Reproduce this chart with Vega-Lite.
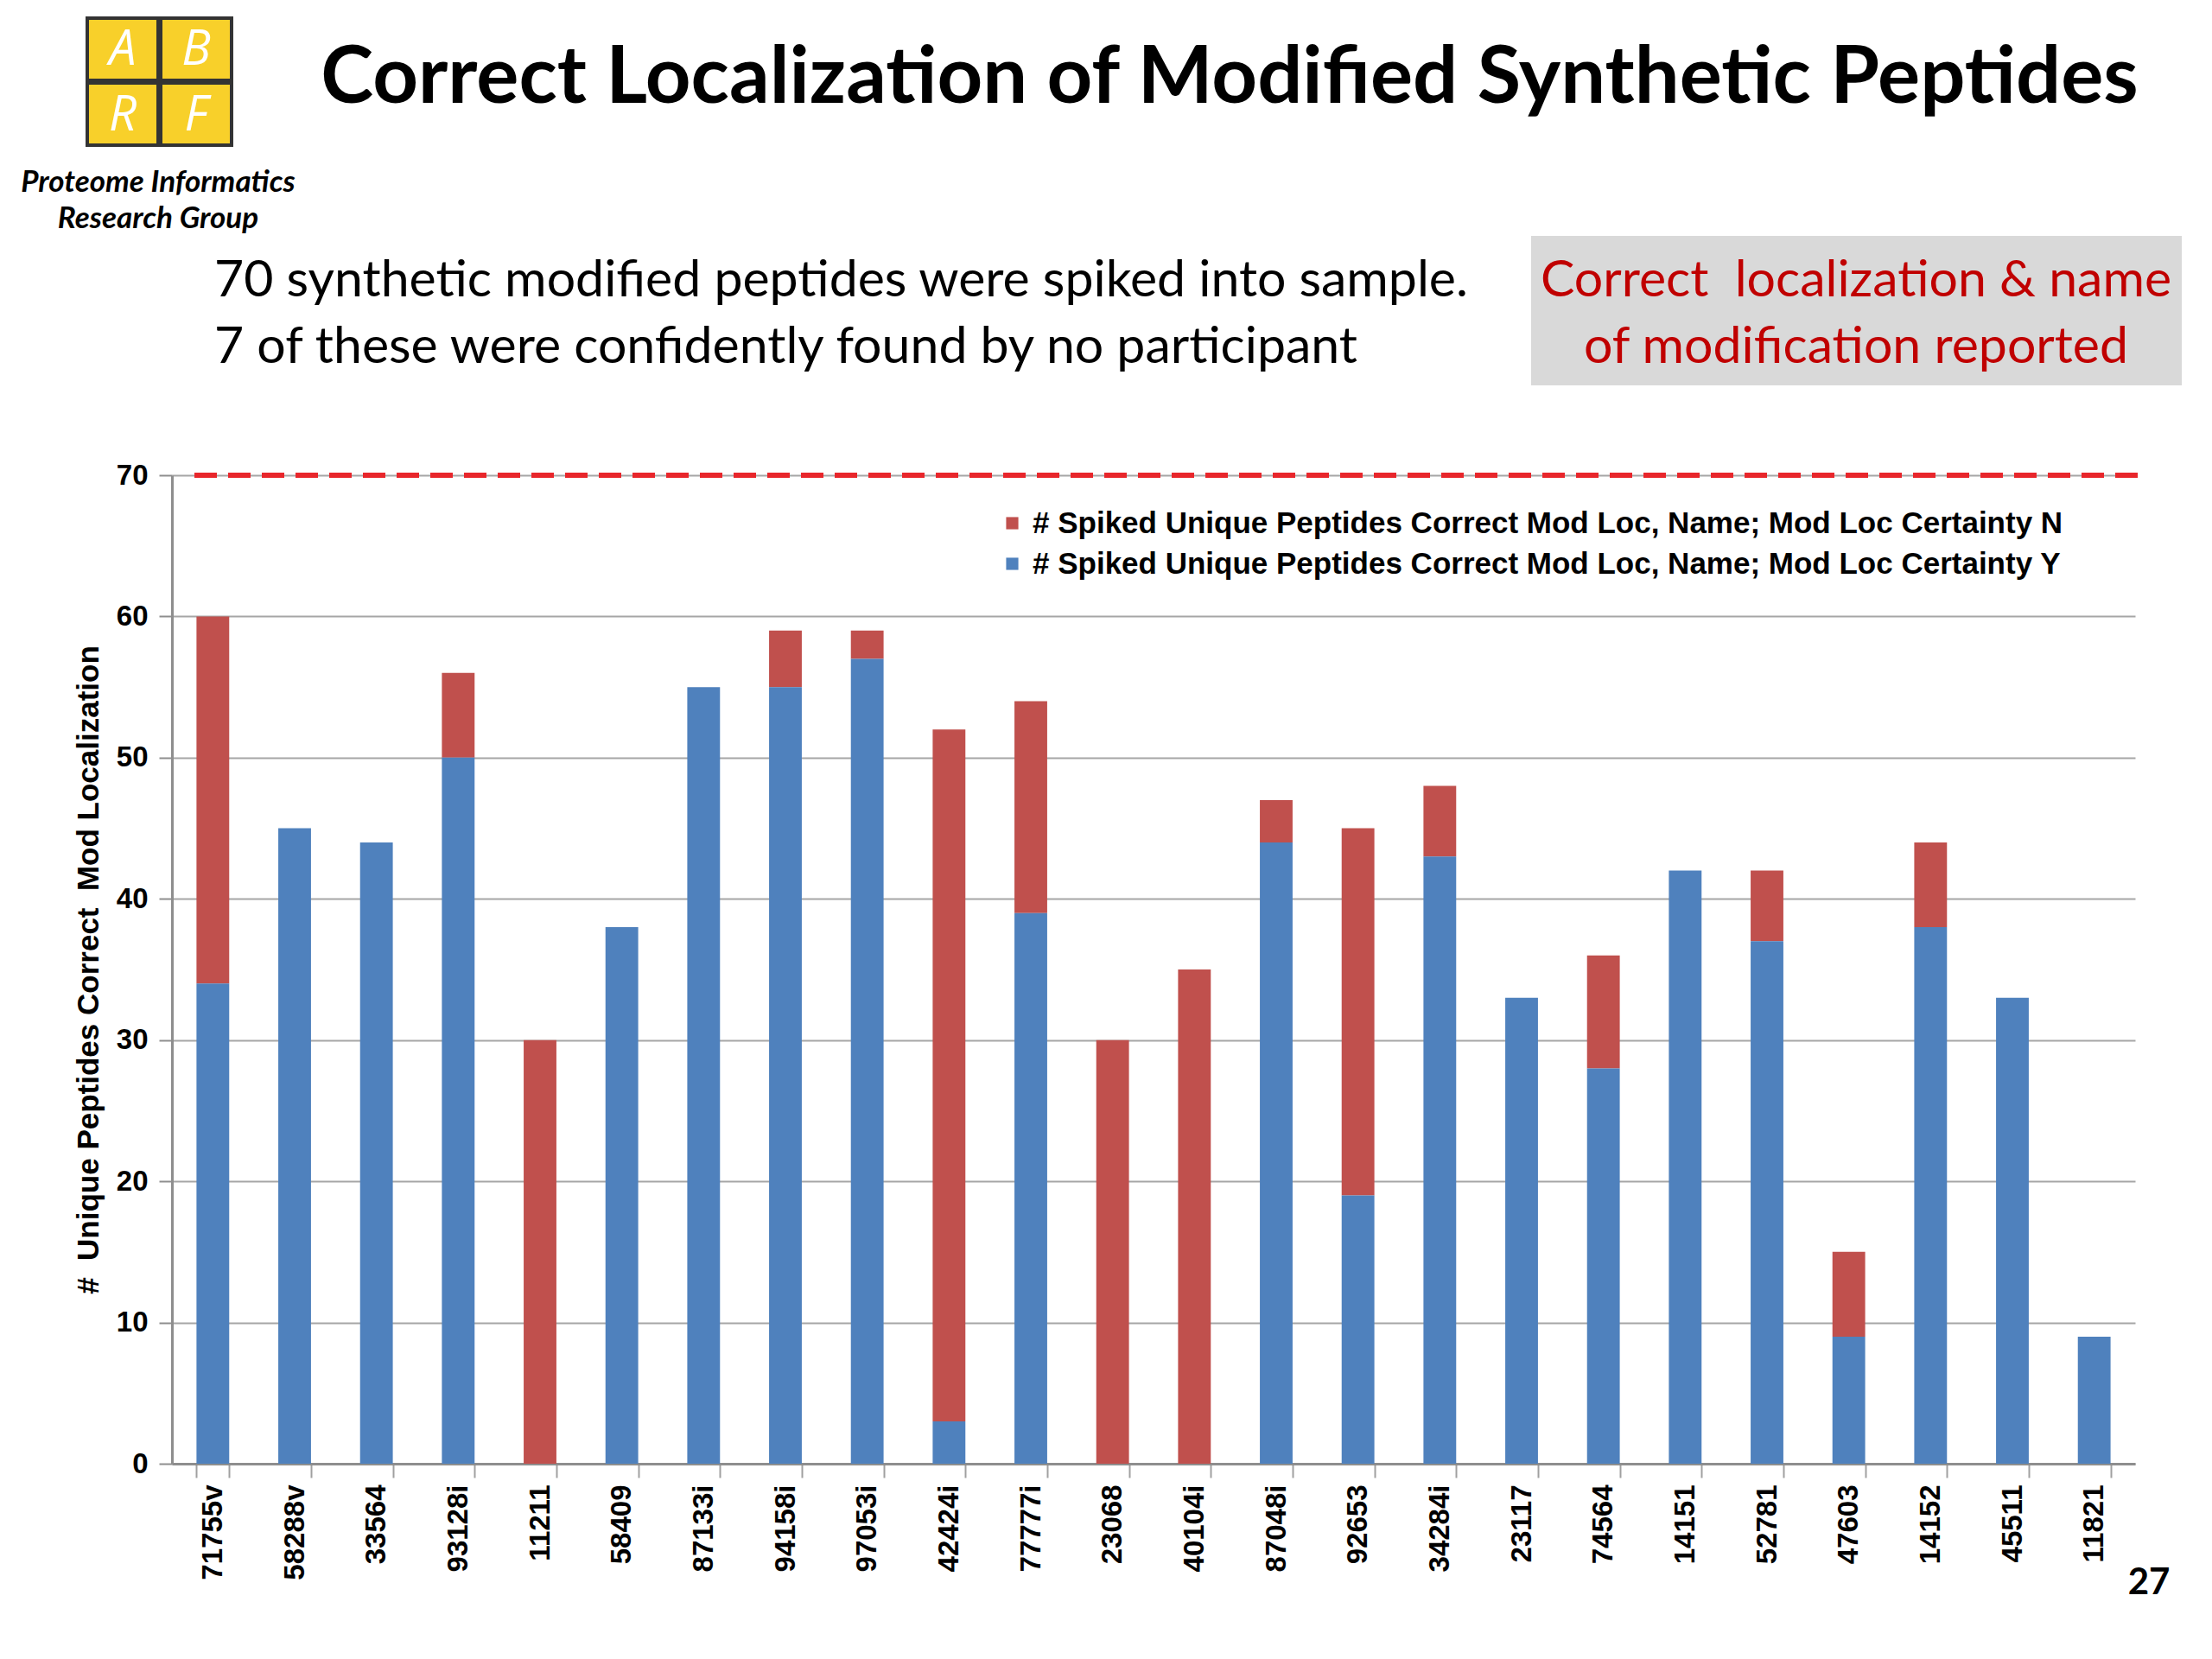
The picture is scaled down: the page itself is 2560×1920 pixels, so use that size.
{
  "$schema": "https://vega.github.io/schema/vega-lite/v6.json",
  "width": 2272,
  "height": 1144,
  "autosize": {"type": "none"},
  "padding": {"left": 199, "top": 550, "right": 89, "bottom": 226},
  "background": "white",
  "config": {"view": {"stroke": null}, "font": "Liberation Sans"},
  "layer": [
    {
      "data": {"values": [
        {"peptide": "71755v", "Y": 34, "N": 26},
        {"peptide": "58288v", "Y": 45, "N": 0},
        {"peptide": "33564", "Y": 44, "N": 0},
        {"peptide": "93128i", "Y": 50, "N": 6},
        {"peptide": "11211", "Y": 0, "N": 30},
        {"peptide": "58409", "Y": 38, "N": 0},
        {"peptide": "87133i", "Y": 55, "N": 0},
        {"peptide": "94158i", "Y": 55, "N": 4},
        {"peptide": "97053i", "Y": 57, "N": 2},
        {"peptide": "42424i", "Y": 3, "N": 49},
        {"peptide": "77777i", "Y": 39, "N": 15},
        {"peptide": "23068", "Y": 0, "N": 30},
        {"peptide": "40104i", "Y": 0, "N": 35},
        {"peptide": "87048i", "Y": 44, "N": 3},
        {"peptide": "92653", "Y": 19, "N": 26},
        {"peptide": "34284i", "Y": 43, "N": 5},
        {"peptide": "23117", "Y": 33, "N": 0},
        {"peptide": "74564", "Y": 28, "N": 8},
        {"peptide": "14151", "Y": 42, "N": 0},
        {"peptide": "52781", "Y": 37, "N": 5},
        {"peptide": "47603", "Y": 9, "N": 6},
        {"peptide": "14152", "Y": 38, "N": 6},
        {"peptide": "45511", "Y": 33, "N": 0},
        {"peptide": "11821", "Y": 9, "N": 0}
      ]},
      "transform": [{"fold": ["N", "Y"], "as": ["cert", "count"]}],
      "mark": {"type": "bar"},
      "encoding": {
        "x": {
          "field": "peptide", "type": "nominal", "sort": null,
          "scale": {"paddingInner": 0.6, "paddingOuter": 0.3},
          "axis": {
            "title": null, "labelAngle": 270, "labelFontSize": 33, "labelFontWeight": "bold",
            "labelColor": "black", "labelPadding": 8, "tickSize": 16, "tickWidth": 2,
            "tickColor": "#A0A0A0", "tickBand": "extent", "domainColor": "#8E8E8E", "domainWidth": 3
          }
        },
        "y": {
          "field": "count", "type": "quantitative", "stack": "zero",
          "scale": {"domain": [0, 70]},
          "axis": {
            "values": [0, 10, 20, 30, 40, 50, 60, 70],
            "title": "#\u00a0 Unique Peptides Correct\u00a0 Mod Localization",
            "titleFont": "Liberation Sans", "titleFontWeight": "bold", "titleFontSize": 35,
            "titleColor": "black", "titlePadding": 14,
            "labelFontSize": 33, "labelFontWeight": "bold", "labelColor": "black", "labelPadding": 13,
            "grid": true, "gridColor": "#A6A6A6", "gridWidth": 2,
            "tickSize": 15, "tickWidth": 2, "tickColor": "#8E8E8E",
            "domainColor": "#8E8E8E", "domainWidth": 3
          }
        },
        "color": {
          "field": "cert", "type": "nominal",
          "scale": {"domain": ["N", "Y"], "range": ["#C0504D", "#4F81BD"]},
          "legend": {
            "orient": "none", "legendX": 955, "legendY": 38, "title": null,
            "symbolType": "square", "symbolSize": 200, "symbolStrokeWidth": 0,
            "labelFont": "Liberation Sans", "labelFontWeight": "bold", "labelFontSize": 35,
            "labelColor": "black", "labelLimit": 0, "rowPadding": 11, "labelOffset": 6,
            "labelExpr": "'# Spiked Unique Peptides Correct Mod Loc, Name; Mod Loc Certainty ' + datum.label"
          }
        },
        "order": {"field": "cert", "sort": "descending"}
      }
    },
    {
      "data": {"values": [{"limit": 70}]},
      "mark": {"type": "rule", "color": "#E8262B", "strokeWidth": 6, "strokeDash": [26, 13], "x": 26, "x2": 2278},
      "encoding": {"y": {"field": "limit", "type": "quantitative"}}
    },
    {
      "data": {"values": [{"t": "Correct Localization of Modified Synthetic Peptides"}]},
      "mark": {"type": "text", "x": 1224, "y": -431, "align": "center", "baseline": "alphabetic", "font": "Lato", "fontWeight": "bold", "fontSize": 92, "color": "black"},
      "encoding": {"text": {"field": "t"}}
    },
    {
      "data": {"values": [{}]},
      "mark": {"type": "rule", "x": -144, "x2": 2361, "y": -392, "y2": -392, "strokeWidth": 8, "color": "#F5C518"},
      "encoding": {}
    },
    {
      "data": {"values": [{}]},
      "mark": {"type": "rect", "x": -98, "x2": -16, "y": -529, "y2": -457, "fill": "#F8D02A", "stroke": "#333333", "strokeWidth": 4},
      "encoding": {}
    },
    {
      "data": {"values": [{}]},
      "mark": {"type": "rect", "x": -13, "x2": 69, "y": -529, "y2": -457, "fill": "#F8D02A", "stroke": "#333333", "strokeWidth": 4},
      "encoding": {}
    },
    {
      "data": {"values": [{}]},
      "mark": {"type": "rect", "x": -98, "x2": -16, "y": -454, "y2": -382, "fill": "#F8D02A", "stroke": "#333333", "strokeWidth": 4},
      "encoding": {}
    },
    {
      "data": {"values": [{}]},
      "mark": {"type": "rect", "x": -13, "x2": 69, "y": -454, "y2": -382, "fill": "#F8D02A", "stroke": "#333333", "strokeWidth": 4},
      "encoding": {}
    },
    {
      "data": {"values": [{"t": "A"}]},
      "mark": {"type": "text", "x": -57, "y": -492, "align": "center", "baseline": "middle", "font": "Open Sans", "fontStyle": "italic", "fontSize": 56, "color": "white"},
      "encoding": {"text": {"field": "t"}}
    },
    {
      "data": {"values": [{"t": "B"}]},
      "mark": {"type": "text", "x": 28, "y": -492, "align": "center", "baseline": "middle", "font": "Open Sans", "fontStyle": "italic", "fontSize": 56, "color": "white"},
      "encoding": {"text": {"field": "t"}}
    },
    {
      "data": {"values": [{"t": "R"}]},
      "mark": {"type": "text", "x": -57, "y": -416, "align": "center", "baseline": "middle", "font": "Open Sans", "fontStyle": "italic", "fontSize": 56, "color": "white"},
      "encoding": {"text": {"field": "t"}}
    },
    {
      "data": {"values": [{"t": "F"}]},
      "mark": {"type": "text", "x": 28, "y": -416, "align": "center", "baseline": "middle", "font": "Open Sans", "fontStyle": "italic", "fontSize": 56, "color": "white"},
      "encoding": {"text": {"field": "t"}}
    },
    {
      "data": {"values": [{"t": ["Proteome Informatics", "Research Group"]}]},
      "mark": {"type": "text", "x": -16, "y": -339, "align": "center", "baseline": "middle", "lineHeight": 42, "font": "Lato", "fontStyle": "italic", "fontWeight": "bold", "fontSize": 35, "color": "black"},
      "encoding": {"text": {"field": "t"}}
    },
    {
      "data": {"values": [{"t": ["70 synthetic modified peptides were spiked into sample.", "7 of these were confidently found by no participant"]}]},
      "mark": {"type": "text", "x": 49, "y": -225, "align": "left", "baseline": "middle", "lineHeight": 77, "font": "Lato", "fontSize": 59, "color": "black"},
      "encoding": {"text": {"field": "t"}}
    },
    {
      "data": {"values": [{}]},
      "mark": {"type": "rect", "x": 1573, "x2": 2326, "y": -277, "y2": -104, "fill": "#D9D9D9"},
      "encoding": {}
    },
    {
      "data": {"values": [{"t": ["Correct\u00a0 localization & name", "of modification reported"]}]},
      "mark": {"type": "text", "x": 1949, "y": -225, "align": "center", "baseline": "middle", "lineHeight": 77, "font": "Lato", "fontSize": 59, "color": "#C00000"},
      "encoding": {"text": {"field": "t"}}
    },
    {
      "data": {"values": [{"t": "27"}]},
      "mark": {"type": "text", "x": 2288, "y": 1282, "align": "center", "baseline": "middle", "font": "Lato", "fontWeight": "bold", "fontSize": 42, "color": "black"},
      "encoding": {"text": {"field": "t"}}
    }
  ]
}
